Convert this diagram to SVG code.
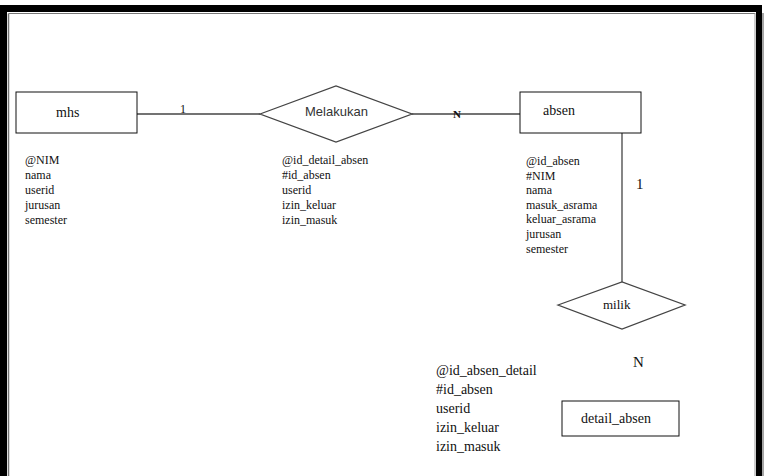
<svg xmlns="http://www.w3.org/2000/svg" width="766" height="476" viewBox="0 0 766 476">
<style>
.ent{fill:#fff;stroke:#111;stroke-width:1}
.rel{fill:#fff;stroke:#444;stroke-width:1.3}
.conn{stroke:#444;stroke-width:1.3;fill:none}
.t{font-family:"Liberation Serif",serif;fill:#111}
.attr{font-family:"Liberation Serif",serif;font-size:12px;fill:#111}
.attr2{font-family:"Liberation Serif",serif;font-size:14px;fill:#111}
.sans{font-family:"Liberation Sans",Arial,sans-serif;fill:#333}
</style>
<rect x="0" y="0" width="766" height="476" fill="#fff"/>
<g id="border">
<rect x="0" y="5" width="762" height="7" fill="#000"/>
<rect x="0" y="5" width="7" height="471" fill="#000"/>
<rect x="756" y="5" width="6" height="471" fill="#000"/>
<line x1="8.5" y1="13.5" x2="755" y2="13.5" stroke="#777" stroke-width="1"/>
<line x1="8.5" y1="13.5" x2="8.5" y2="476" stroke="#777" stroke-width="1.5"/>
<line x1="755" y1="13" x2="755" y2="476" stroke="#999" stroke-width="1"/>
<line x1="763" y1="13" x2="763" y2="476" stroke="#888" stroke-width="1.5"/>
</g>
<g id="connectors">
<line class="conn" x1="137" y1="114" x2="260" y2="114"/>
<line class="conn" x1="412" y1="114" x2="520" y2="114"/>
<line class="conn" x1="622" y1="133" x2="622" y2="282"/>
<text class="t" x="180" y="113" font-size="12">1</text>
<text class="t" x="453" y="118" font-size="11" font-weight="bold">N</text>
<text class="t" x="636" y="189" font-size="15">1</text>
<text class="t" x="633" y="367" font-size="15">N</text>
</g>
<g id="mhs">
<rect class="ent" x="16" y="92" width="121" height="41"/>
<text class="t" x="56" y="117" font-size="14">mhs</text>
<text class="attr" x="25" y="164">@NIM</text>
<text class="attr" x="25" y="179">nama</text>
<text class="attr" x="25" y="194">userid</text>
<text class="attr" x="25" y="209">jurusan</text>
<text class="attr" x="25" y="224">semester</text>
</g>
<g id="melakukan">
<polygon class="rel" points="260,114 336,86 412,114 336,142"/>
<text class="sans" x="305" y="116" font-size="13">Melakukan</text>
<text class="attr" x="282" y="164">@id_detail_absen</text>
<text class="attr" x="282" y="179">#id_absen</text>
<text class="attr" x="282" y="194">userid</text>
<text class="attr" x="282" y="209">izin_keluar</text>
<text class="attr" x="282" y="224">izin_masuk</text>
</g>
<g id="absen">
<rect class="ent" x="520" y="92" width="121" height="41"/>
<text class="t" x="543" y="115" font-size="14">absen</text>
<text class="attr" x="526" y="165">@id_absen</text>
<text class="attr" x="526" y="180">#NIM</text>
<text class="attr" x="526" y="194">nama</text>
<text class="attr" x="526" y="209">masuk_asrama</text>
<text class="attr" x="526" y="223">keluar_asrama</text>
<text class="attr" x="526" y="238">jurusan</text>
<text class="attr" x="526" y="253">semester</text>
</g>
<g id="milik">
<polygon class="rel" points="558,305 622,282 685,305 622,329"/>
<text class="t" x="603" y="309" font-size="13">milik</text>
</g>
<g id="detail_absen">
<rect class="ent" x="562" y="401" width="117" height="35"/>
<text class="t" x="581" y="423" font-size="14">detail_absen</text>
<text class="attr2" x="436" y="375">@id_absen_detail</text>
<text class="attr2" x="436" y="394">#id_absen</text>
<text class="attr2" x="436" y="413">userid</text>
<text class="attr2" x="436" y="432">izin_keluar</text>
<text class="attr2" x="436" y="451">izin_masuk</text>
</g>
</svg>
